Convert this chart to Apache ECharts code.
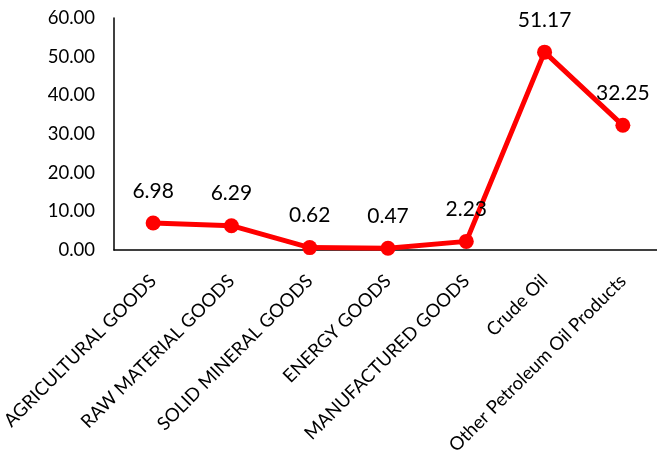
<!DOCTYPE html>
<html>
<head>
<meta charset="utf-8">
<style>html,body{margin:0;padding:0;background:#fff;}#c{width:657px;height:459px;}</style>
<script src="https://cdn.jsdelivr.net/npm/echarts@6/dist/echarts.min.js"></script>
</head>
<body>
<div id="c"></div>
<script>
const categories = ["AGRICULTURAL GOODS","RAW MATERIAL GOODS","SOLID MINERAL GOODS","ENERGY GOODS","MANUFACTURED GOODS","Crude Oil","Other Petroleum Oil Products"];
const values = [6.98, 6.29, 0.62, 0.47, 2.23, 51.17, 32.25];
const yTicks = [0, 10, 20, 30, 40, 50, 60];

const FONT = 'Lato';
const chart = echarts.init(document.getElementById('c'));
chart.setOption({
  animation: false,
  grid: {left: 114, top: 18, right: -5, bottom: 209, containLabel: false, outerBoundsMode: 'none'},
  xAxis: {
    type: 'category',
    data: categories,
    boundaryGap: true,
    axisLine: {lineStyle: {color: '#000', width: 1.5}},
    axisTick: {show: false},
    axisLabel: {rotate: 45, interval: 0, fontFamily: FONT, fontSize: 18.5, lineHeight: 19, color: '#000',
                margin: 28, verticalAlign: 'middle', padding: [9, 0, 0, 0]}
  },
  yAxis: {
    type: 'value',
    min: yTicks[0], max: yTicks[yTicks.length-1], interval: 10,
    splitLine: {show: false},
    axisLine: {show: true, lineStyle: {color: '#000', width: 1.5}},
    axisTick: {show: false},
    axisLabel: {fontFamily: FONT, fontSize: 18.5, color: '#000', margin: 19, formatter: v => v.toFixed(2)}
  },
  series: [{
    type: 'line',
    data: values,
    symbol: 'circle',
    symbolSize: 15,
    lineStyle: {color: '#FF0000', width: 5},
    itemStyle: {color: '#FF0000'},
    label: {show: true, position: 'top', distance: 14, fontFamily: FONT, fontSize: 21, color: '#000', formatter: p => p.value.toFixed(2)}
  }]
});
</script>
</body>
</html>
